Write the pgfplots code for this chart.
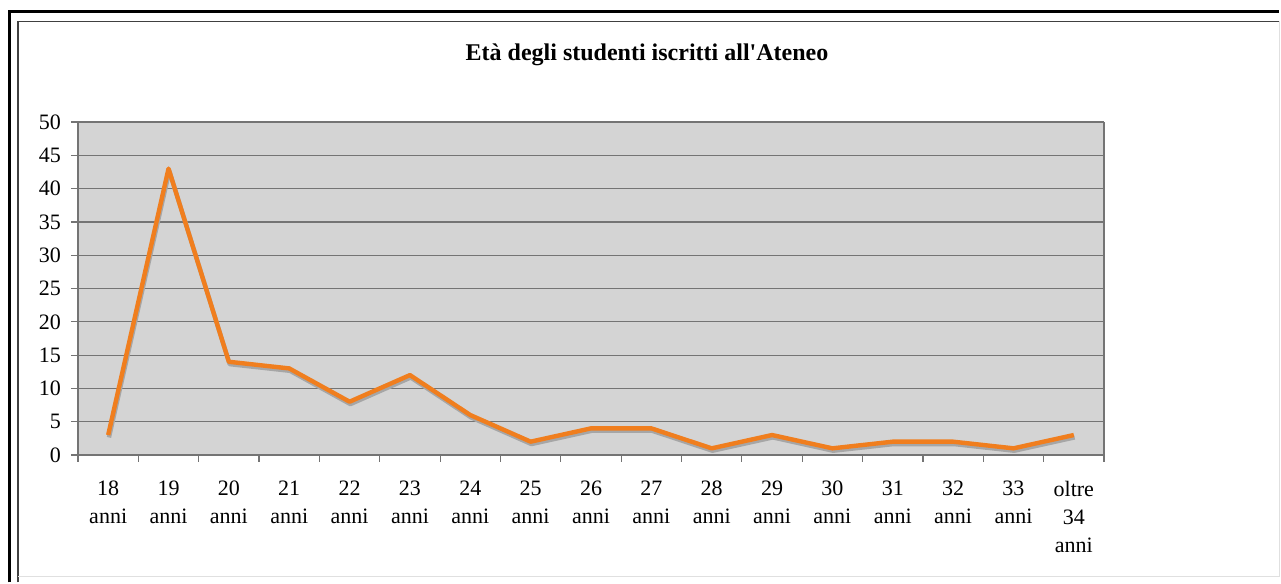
\documentclass[border=0pt]{standalone}
\usepackage{pgfplots}
\pgfplotsset{compat=1.18}
\usepackage{fontspec}
\setmainfont{Liberation Serif}

\definecolor{plotfill}{HTML}{D4D4D4}
\definecolor{gridgray}{HTML}{747474}
\definecolor{lineorange}{HTML}{F07E1E}

\begin{document}
\begin{tikzpicture}
% page area (1281 x 584 px at 2 px per pt)
\path (0pt,0pt) rectangle (640.5pt,292pt);
% frame around the chart
\draw[line width=1.35pt] (4.85pt,0.8pt) -- (4.85pt,286.35pt) -- (639.7pt,286.35pt);
\draw[line width=0.6pt, black!75] (9pt,0.8pt) -- (9pt,281.35pt) -- (639.7pt,281.35pt);
\draw[line width=0.5pt, black!12] (639.7pt,281.35pt) -- (639.7pt,3.5pt) -- (9pt,3.5pt);
\node[font=\bfseries\fontsize{12}{14}\selectfont] at (323.5pt,264.5pt) {Età degli studenti iscritti all\textquotesingle Ateneo};

\begin{axis}[
    at={(39pt,64.5pt)}, anchor=south west,
    scale only axis,
    width=513pt, height=166.5pt,
    xmin=0, xmax=17,
    ymin=0, ymax=50,
    ytick={0,5,...,50},
    xtick={0,...,17},
    x tick label as interval,
    xticklabels={{18\\anni},{19\\anni},{20\\anni},{21\\anni},{22\\anni},{23\\anni},{24\\anni},{25\\anni},{26\\anni},{27\\anni},{28\\anni},{29\\anni},{30\\anni},{31\\anni},{32\\anni},{33\\anni},{oltre\\34\\anni}},
    xticklabel style={align=center, font=\fontsize{11}{14}\selectfont, anchor=north, yshift=-6pt},
    yticklabel style={font=\fontsize{11}{13}\selectfont, xshift=-1.5pt},
    /pgf/number format/assume math mode=true,
    tick align=outside,
    major tick length=3.5pt,
    tick style={gridgray, line width=0.6pt},
    ymajorgrids,
    major grid style={gridgray, line width=0.6pt},
    axis background/.style={fill=plotfill},
    axis line style={gridgray, line width=0.6pt},
    axis x line*=bottom,
    axis y line*=left,
    clip=false,
]
% soft shadow under the line
\addplot[draw=black!35, line width=2.2pt, line join=round, transform canvas={yshift=-1.2pt, xshift=0.4pt}] coordinates {
    (0.5,3) (1.5,43) (2.5,14) (3.5,13) (4.5,8) (5.5,12) (6.5,6) (7.5,2) (8.5,4)
    (9.5,4) (10.5,1) (11.5,3) (12.5,1) (13.5,2) (14.5,2) (15.5,1) (16.5,3)
};
\addplot[draw=lineorange, line width=2.2pt, line join=round] coordinates {
    (0.5,3) (1.5,43) (2.5,14) (3.5,13) (4.5,8) (5.5,12) (6.5,6) (7.5,2) (8.5,4)
    (9.5,4) (10.5,1) (11.5,3) (12.5,1) (13.5,2) (14.5,2) (15.5,1) (16.5,3)
};
\draw[gridgray, line width=0.6pt] (axis cs:17,0) -- (axis cs:17,50);
\end{axis}
\end{tikzpicture}
\end{document}
